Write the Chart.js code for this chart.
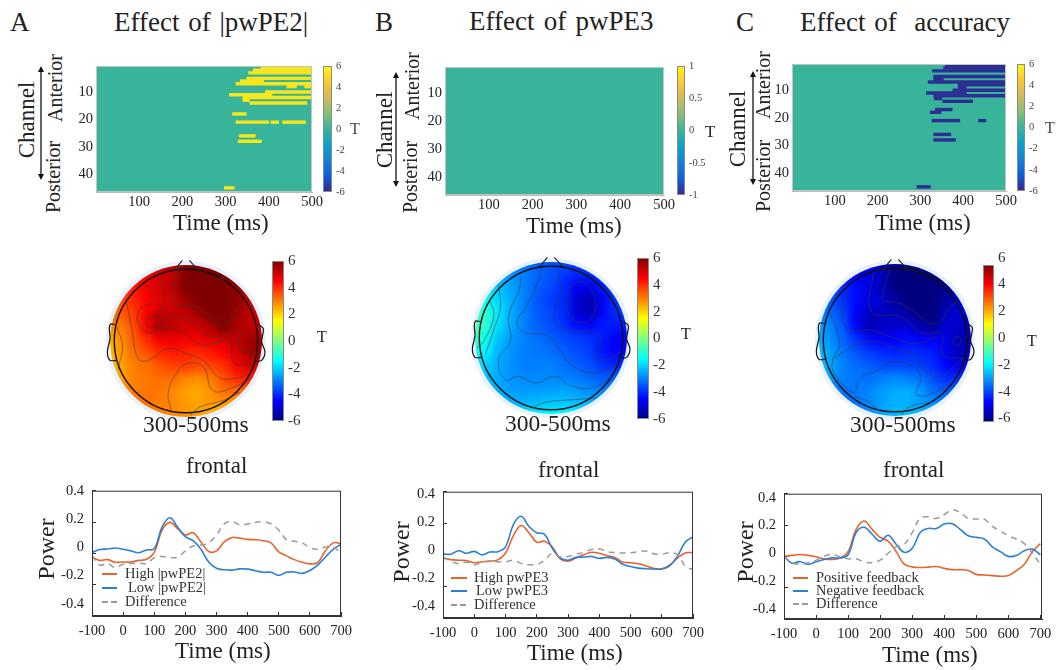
<!DOCTYPE html>
<html>
<head>
<meta charset="utf-8">
<title>Effect panels</title>
<script src="https://cdn.jsdelivr.net/npm/chart.js@4/dist/chart.umd.min.js"></script>
<style>
  html, body { margin: 0; padding: 0; background: #fff; }
  #page { position: relative; width: 1056px; height: 670px; overflow: hidden; font-family: "Liberation Serif", serif; color: #222; }
  #page canvas { position: absolute; }
  .txt { position: absolute; white-space: pre; line-height: 1; }
  .rot { position: absolute; white-space: pre; line-height: 1; transform: translate(-50%, -50%) rotate(-90deg); }
  .halo { position: absolute; border-radius: 50%; background: #e7f1fc; }
  .swatch { position: absolute; }
</style>
</head>
<body>
<div id="page"></div>
<script>
// Data
const times = [-100, -75, -50, -25, 0, 25, 50, 75, 100, 125, 150, 175, 200, 225, 250, 275, 300, 325, 350, 375, 400, 425, 450, 475, 500, 525, 550, 575, 600, 625, 650, 675, 700];
const xTicks = [-100, 0, 100, 200, 300, 400, 500, 600, 700];
const powerTicks = [0.4, 0.2, 0, -0.2, -0.4];
const heatXTicks = [100, 200, 300, 400, 500];
const heatYTicks = [10, 20, 30, 40];
const channelCount = 46;
const tickSix = [6, 4, 2, 0, -2, -4, -6];
const tickOne = [1, 0.5, 0, -0.5, -1];

const highPE2 = [-.024, -.045, -.04, -.057, -.055, -.055, -.045, -.038, .006, .148, .198, .158, .117, .132, .073, .012, .016, .073, .101, .097, .089, .087, .081, .067, .01, -.016, -.04, -.057, -.067, -.059, .016, .067, .061];
const lowPE2 = [.006, .024, .028, .034, .026, .016, .004, .022, .03, .168, .227, .168, .107, .081, .026, -.055, -.095, -.105, -.107, -.099, -.101, -.111, -.121, -.121, -.14, -.121, -.119, -.128, -.109, -.075, -.024, .026, .057];
const diffPE2 = [-.014, -.075, -.065, -.091, -.069, -.065, -.061, -.065, -.028, -.02, -.028, -.024, .016, .047, .053, .067, .117, .188, .204, .182, .188, .198, .202, .188, .148, .087, .077, .067, .036, .026, .04, .04, -.004];

const highPE3 = [-.02, -.03, -.034, -.036, -.05, -.044, -.04, -.032, .01, .12, .186, .14, .08, .086, .05, -.026, -.04, -.02, 0, .016, .01, -.006, -.016, -.046, -.05, -.056, -.07, -.086, -.088, -.066, -.02, .012, .014];
const lowPE3 = [.006, .004, .026, .01, .022, 0, .018, .02, .05, .19, .244, .18, .14, .13, .04, -.02, -.034, -.016, -.014, -.01, -.022, -.016, -.026, -.06, -.074, -.084, -.088, -.09, -.09, -.07, -.01, .08, .114];
const diffPE3 = [-.014, -.04, -.056, -.046, -.064, -.046, -.04, -.044, -.044, -.034, -.054, -.062, -.062, -.034, .01, -.014, -.01, .004, .016, .034, .038, .02, .014, .012, .014, .02, .024, .006, .004, .014, 0, -.07, -.094];

const positiveFb = [0, .006, .012, .006, -.002, -.016, -.02, -.01, .03, .172, .226, .172, .121, .097, .03, -.05, -.067, -.071, -.069, -.065, -.077, -.085, -.085, -.091, -.115, -.119, -.123, -.127, -.123, -.091, -.05, .03, .081];
const negativeFb = [0, -.044, -.034, -.051, -.034, -.02, -.01, -.01, .01, .152, .186, .141, .097, .135, .077, .026, .051, .152, .178, .178, .206, .208, .172, .131, .121, .111, .061, .03, 0, .006, .036, .046, .01];
const diffFb = [0, -.04, -.051, -.04, -.024, 0, .014, -.004, -.016, -.016, -.036, -.04, -.024, .02, .061, .077, .152, .242, .253, .242, .267, .297, .279, .242, .238, .238, .192, .162, .131, .111, .081, .02, -.051];

// significant stretches: [channel, start ms, end ms]
const clusterA = [[1, 382, 500], [2, 364, 500], [3, 353, 500], [5, 349, 500], [6, 334, 388], [7, 324, 500], [8, 442, 464], [8, 483, 500], [10, 392, 500], [11, 309, 407], [12, 340, 500], [13, 340, 355], [14, 356, 488], [18, 316, 348], [21, 324, 400], [21, 405, 423], [21, 432, 485], [26, 332, 369], [28, 329, 383], [45, 297, 320]];
const clusterB = [];
const clusterC = [[1, 358, 500], [2, 354, 500], [3, 328, 500], [5, 331, 500], [6, 331, 354], [7, 318, 500], [8, 388, 500], [9, 388, 407], [10, 376, 500], [11, 314, 407], [12, 331, 500], [13, 332, 350], [14, 352, 422], [17, 335, 374], [18, 323, 348], [21, 327, 392], [21, 436, 453], [26, 331, 371], [28, 331, 382], [45, 292, 323]];

// T values on a 13 x 13 grid over the scalp, top row first
const scalpA = [
  [4.5, 4.5, 4.5, 4.5, 5, 5.3, 5.8, 6, 6, 5.8, 5.5, 5, 5],
  [4, 4, 4.2, 4.6, 5, 5.2, 6, 6, 6, 6, 5.8, 5, 5],
  [3.8, 3.8, 4.2, 4.6, 5, 5.3, 6, 6, 6, 6, 5.8, 5.2, 5],
  [3.5, 3.6, 4, 4.5, 4.8, 5, 5.6, 6, 6, 6, 5.8, 5.2, 5],
  [3.2, 3.4, 3.8, 4.6, 5.3, 5.2, 5.2, 5.6, 6, 6, 5.6, 5.2, 5],
  [2.8, 3, 3.6, 4.6, 5.5, 5.2, 5, 5, 5.5, 6, 5.4, 5.3, 5.2],
  [2.4, 2.8, 3.4, 4, 4.6, 4.7, 4.6, 4.6, 4.8, 5, 5.2, 5.7, 5.6],
  [2.2, 2.7, 3.2, 3.5, 4, 4.2, 4.1, 4, 4.2, 4.5, 5, 5.6, 5.6],
  [2.2, 2.6, 3, 3.2, 3.5, 3.7, 3.8, 3.6, 3.7, 3.9, 4.6, 5, 5],
  [2.4, 2.6, 3, 3.1, 3.2, 3.2, 2.9, 2.8, 3, 3.6, 4, 4.2, 4.2],
  [2.8, 3, 3, 3.1, 3.1, 2.9, 2.6, 2.5, 2.8, 3.2, 3.2, 3.2, 3],
  [3.4, 3.4, 3.2, 3.2, 3, 2.9, 2.7, 2.6, 2.7, 2.6, 2.4, 2, 2],
  [3.6, 3.6, 3.4, 3.2, 3, 2.9, 2.8, 2.6, 2.2, 2, 1.8, 1.8, 1.8]
];
const scalpB = [
  [-3, -3, -3, -3, -3.2, -3.4, -3.6, -3.6, -3.8, -4, -3.8, -3.5, -3.5],
  [-2.4, -2.4, -2.6, -2.8, -3, -3.3, -3.5, -3.8, -4, -4, -3.9, -3.6, -3.5],
  [-1.6, -1.8, -2.2, -2.6, -3, -3.4, -3.6, -4, -4.6, -4.7, -4.2, -3.8, -3.5],
  [-1, -1.4, -2, -2.5, -3, -3.5, -3.8, -4, -5, -5.4, -4.6, -3.9, -3.6],
  [-.6, -1, -1.8, -2.5, -3, -3.4, -3.7, -4, -5, -5.4, -4.6, -4, -3.8],
  [-.4, -1, -1.9, -2.5, -3, -3.4, -3.6, -3.9, -4.4, -4.6, -4.2, -4.2, -4.2],
  [-.6, -1.3, -2.2, -2.7, -3, -3.2, -3.4, -3.6, -3.8, -3.9, -4.2, -4.6, -4.5],
  [-1.2, -1.6, -2.4, -2.8, -3, -3.1, -3.2, -3.4, -3.6, -3.8, -4.3, -4.6, -4.4],
  [-1.8, -2, -2.5, -2.8, -3, -3, -3, -3.2, -3.4, -3.6, -4, -4.2, -4],
  [-2, -2.2, -2.5, -2.8, -2.9, -2.9, -2.9, -3, -3.1, -3.3, -3.5, -3.5, -3.4],
  [-2.2, -2.3, -2.5, -2.7, -2.7, -2.7, -2.7, -2.6, -2.7, -2.9, -3, -3, -3],
  [-2.4, -2.4, -2.4, -2.4, -2.4, -2.3, -2.2, -2.2, -2.3, -2.4, -2.5, -2.6, -2.6],
  [-2.4, -2.3, -2.2, -2, -1.8, -1.6, -1.5, -1.5, -1.6, -1.8, -2, -2.2, -2.4]
];
const scalpC = [
  [-4.5, -4.5, -4.6, -4.8, -5, -5.3, -5.7, -6, -6, -5.8, -5.5, -5, -5],
  [-4, -4, -4.2, -4.6, -4.8, -5.2, -6, -6, -6, -6, -5.8, -5.2, -5],
  [-3.6, -3.7, -4, -4.4, -4.8, -5.3, -6, -6, -6, -6, -5.8, -5.2, -5],
  [-3.4, -3.5, -3.9, -4.4, -4.8, -5, -5.6, -6, -6, -6, -5.6, -5, -5],
  [-3, -3.2, -3.7, -4.6, -5.2, -5.3, -5.3, -5.6, -6, -6, -5.2, -5, -5],
  [-2.6, -2.9, -3.5, -4.5, -5.4, -5.2, -5, -5, -5.4, -5.8, -5, -5.2, -5.2],
  [-2.4, -2.8, -3.3, -3.9, -4.4, -4.6, -4.5, -4.4, -4.6, -4.6, -4.8, -5.4, -5.5],
  [-2.2, -2.6, -3.1, -3.5, -3.8, -4, -4.1, -4, -4, -4.2, -4.8, -5.3, -5.3],
  [-2.2, -2.5, -3, -3.2, -3.4, -3.6, -3.7, -3.7, -3.8, -4, -4.5, -4.8, -4.7],
  [-2.4, -2.6, -3, -3.1, -3.2, -3, -2.9, -3, -3.2, -3.6, -4, -4, -4],
  [-2.8, -3, -3.1, -3.1, -2.9, -2.7, -2.5, -2.4, -2.7, -3.2, -3.4, -3.4, -3.4],
  [-3.2, -3.4, -3.3, -3.1, -2.9, -2.6, -2.4, -2.4, -2.6, -2.8, -3, -3, -3],
  [-3.4, -3.4, -3.3, -3.1, -2.8, -2.6, -2.3, -2.2, -2.2, -2.3, -2.4, -2.4, -2.4]
];

// contour lines, traced per scalp
const contoursA = [
  [[262, 70], [255, 110], [248, 170], [290, 178], [340, 195], [385, 240], [420, 225], [440, 190], [468, 165]],
  [[215, 105], [218, 170], [205, 210], [172, 218], [170, 240], [190, 246], [235, 215], [290, 222], [340, 262], [380, 275], [420, 260], [450, 255], [445, 295], [460, 315], [498, 322]],
  [[165, 110], [192, 165], [150, 190], [145, 235], [180, 262], [225, 245], [270, 258], [335, 298], [385, 290], [420, 285], [425, 340], [450, 360], [495, 350]],
  [[108, 160], [125, 250], [145, 340], [175, 345], [235, 310], [290, 325], [345, 350], [385, 395], [430, 400], [480, 385]],
  [[80, 245], [97, 300], [85, 370]],
  [[243, 495], [235, 440], [262, 380], [290, 355], [340, 365], [368, 435], [420, 430], [490, 395]],
  [[300, 510], [330, 485], [400, 465], [450, 440]]
];
const contoursB = [
  [[318, 165], [340, 118], [375, 115], [400, 150], [405, 195], [380, 232], [340, 225], [320, 195], [318, 165]],
  [[295, 85], [300, 150], [280, 220], [320, 255], [385, 262], [415, 265], [420, 300], [405, 340], [440, 345], [485, 320]],
  [[245, 70], [225, 130], [195, 190], [170, 230], [190, 262], [260, 272], [300, 320], [340, 365], [400, 385], [470, 360]],
  [[180, 95], [178, 130], [145, 215], [150, 290], [115, 345], [135, 405], [175, 395], [225, 415], [285, 395], [335, 425], [410, 425], [465, 375]],
  [[115, 120], [120, 190], [100, 255], [75, 330]],
  [[90, 170], [100, 215], [70, 290], [50, 310]],
  [[215, 490], [260, 472], [340, 465], [410, 460]]
];
const contoursC = [
  [[268, 75], [250, 140], [250, 165], [300, 175], [350, 205], [390, 235], [425, 225], [445, 190], [470, 170]],
  [[220, 80], [215, 200], [300, 215], [370, 265], [425, 265], [430, 330], [495, 340]],
  [[460, 285], [470, 275], [485, 285], [475, 300], [460, 295], [460, 285]],
  [[145, 130], [125, 205], [150, 255], [210, 255], [270, 275], [345, 295], [410, 275]],
  [[85, 190], [118, 295], [100, 340], [100, 380], [145, 435], [165, 440], [180, 400], [235, 375], [270, 352], [330, 360], [362, 395], [350, 450], [420, 435], [490, 385]],
  [[100, 340], [170, 300], [230, 290], [290, 310], [340, 330], [370, 370], [415, 395], [490, 340]],
  [[165, 455], [205, 470], [235, 495]],
  [[305, 510], [330, 485], [400, 470]]
];
// head outline relative to the head centre
const noseLeft = [[-38, -209], [-11, -242]];
const noseRight = [[10, -242], [40, -209]];
const earLeft = [[-213, -49], [-226, -51], [-230, -37], [-228, -7], [-236, 33], [-228, 58], [-210, 58]];
const earRight = [[217, -49], [232, -37], [227, 3], [237, 33], [227, 58], [209, 61]];

const parulaStops = ["#352a87", "#0f5cdd", "#1481d6", "#06a4ca", "#38b49b", "#87bf77", "#d1bb59", "#fec832", "#f9fb0e"];
const jetStops = ["#00007f", "#0000ff", "#007fff", "#00ffff", "#7fff7f", "#ffff00", "#ff7f00", "#ff0000", "#7f0000"];

Chart.defaults.animation = false;
Chart.defaults.responsive = false;
Chart.defaults.layout.autoPadding = false;
Chart.defaults.font.family = '"Liberation Serif", serif';
Chart.defaults.color = "#222";
Chart.defaults.plugins.legend.display = false;
Chart.defaults.plugins.tooltip.enabled = false;

const page = document.getElementById("page");

// Texte: left edge + baseline
function text(str, x, base, size, color, wordGap) {
  const d = document.createElement("div");
  d.className = "txt";
  d.textContent = str;
  d.style.left = x + "px";
  d.style.top = base - 0.8375 * size + "px";
  d.style.fontSize = size + "px";
  if (color) d.style.color = color;
  if (wordGap) d.style.wordSpacing = wordGap + "px";
  page.appendChild(d);
}

function vtext(str, cx, cy, size) {
  const d = document.createElement("div");
  d.className = "rot";
  d.textContent = str;
  d.style.left = cx + "px";
  d.style.top = cy + "px";
  d.style.fontSize = size + "px";
  page.appendChild(d);
}

function arrow(x, y1, y2) {
  const svg = document.createElementNS("http://www.w3.org/2000/svg", "svg");
  svg.setAttribute("width", 12);
  svg.setAttribute("height", y2 - y1);
  svg.style.position = "absolute";
  svg.style.left = x - 6 + "px";
  svg.style.top = y1 + "px";
  const h = y2 - y1;
  svg.innerHTML =
    `<line x1="6" y1="3" x2="6" y2="${h - 3}" stroke="#111" stroke-width="1.3"/>` +
    `<polygon points="6,0 3,6 9,6" fill="#111"/>` +
    `<polygon points="6,${h} 3,${h - 6} 9,${h - 6}" fill="#111"/>`;
  page.appendChild(svg);
}

// canvas sized so that the plot area lands on box, with m px around it for the axes
function mount(box, m) {
  const c = document.createElement("canvas");
  c.width = box.r - box.l + m.l + m.r;
  c.height = box.b - box.t + m.t + m.b;
  c.style.left = box.l - m.l + "px";
  c.style.top = box.t - m.t + "px";
  page.appendChild(c);
  return c;
}

function frame(color) {
  return {
    id: "frame",
    afterDraw(chart) {
      const a = chart.chartArea, ctx = chart.ctx;
      ctx.save();
      ctx.strokeStyle = color;
      ctx.lineWidth = 1;
      ctx.strokeRect(a.left + 0.5, a.top + 0.5, a.right - a.left - 1, a.bottom - a.top - 1);
      ctx.restore();
    },
  };
}

function fixedTicks(list) {
  return (scale) => {
    scale.ticks = list.map((v) => ({ value: v }));
  };
}

function lerpColor(stops, t) {
  const p = Math.max(0, Math.min(1, t)) * (stops.length - 1);
  const i = Math.min(Math.floor(p), stops.length - 2);
  const f = p - i;
  const a = parseInt(stops[i].slice(1), 16), b = parseInt(stops[i + 1].slice(1), 16);
  const ch = (s) => Math.round(((a >> s) & 255) * (1 - f) + ((b >> s) & 255) * f);
  return `rgb(${ch(16)},${ch(8)},${ch(0)})`;
}

// Heatmap: one floating horizontal bar per stretch
function heatmap(box, clusters, color, ms) {
  const channels = Array.from({ length: channelCount }, (_, i) => String(i + 1));
  const layers = [];
  clusters.forEach(([ch, from, to]) => {
    let layer = layers.find((l) => !l[ch - 1]);
    if (!layer) {
      layer = new Array(channelCount).fill(null);
      layers.push(layer);
    }
    layer[ch - 1] = [from, to];
  });
  const bar = { barPercentage: 1, categoryPercentage: 1, grouped: false, borderWidth: 0 };
  new Chart(mount(box, ms), {
    type: "bar",
    data: {
      labels: channels,
      datasets: [
        ...layers.map((l) => ({ data: l, backgroundColor: color, order: 1, ...bar })),
        // slightly oversized so no seams show between the rows
        { data: channels.map(() => [0, 500]), backgroundColor: "#38b49b", order: 2, ...bar, barPercentage: 1.3 },
      ],
    },
    options: {
      indexAxis: "y",
      layout: { padding: { top: ms.t, right: ms.r, left: 0, bottom: 0 } },
      scales: {
        x: {
          type: "linear", min: 0, max: 500,
          grid: { drawOnChartArea: false, drawTicks: false },
          border: { color: "#bbb" },
          afterBuildTicks: fixedTicks(heatXTicks),
          ticks: { font: { size: 14.5 }, padding: ms.pad, color: "#222", maxRotation: 0 },
          afterFit: (s) => { s.height = ms.b; },
        },
        y: {
          grid: { drawOnChartArea: false, drawTicks: false },
          border: { color: "#bbb" },
          ticks: {
            autoSkip: false, font: { size: 14.5 }, padding: 3, color: "#222",
            callback: (v, i) => (heatYTicks.includes(i + 1) ? String(i + 1) : ""),
          },
          afterFit: (s) => { s.width = ms.l; },
        },
      },
    },
    plugins: [frame("#c4c4c4")],
  });
}

// Colour bar: one floating bar with a gradient fill; labelRange lets the numbers sit off the bar ends
function colorbar(box, stops, ticks, range, labelSize, labelColor, labelRange) {
  const m = { l: 0, r: 34, t: 12, b: 12 };
  const lr = labelRange || [range[0], range[1]];
  new Chart(mount(box, m), {
    type: "bar",
    data: {
      labels: [""],
      datasets: [{
        data: [[range[0], range[1]]],
        barPercentage: 1,
        categoryPercentage: 1,
        borderWidth: 0,
        backgroundColor: (ctx) => {
          const a = ctx.chart.chartArea;
          if (!a) return stops[0];
          const g = ctx.chart.ctx.createLinearGradient(0, a.bottom, 0, a.top);
          stops.forEach((s, i) => g.addColorStop(i / (stops.length - 1), s));
          return g;
        },
      }],
    },
    options: {
      layout: { padding: { top: m.t, bottom: m.b, left: 0, right: 0 } },
      scales: {
        x: { display: false },
        y: { display: false, min: range[0], max: range[1] },
        tick: {
          position: "right", min: lr[0], max: lr[1],
          grid: { display: false, drawTicks: false },
          border: { display: false },
          afterBuildTicks: fixedTicks(ticks),
          ticks: { font: { size: labelSize }, color: labelColor, padding: 4, callback: (v) => String(v) },
          afterFit: (s) => { s.width = m.r; },
        },
      },
    },
    plugins: [frame("#8a8a8a")],
  });
}

// Scalp map: grid cells blurred together, then contours + head outline on a second chart
function scalp(cx, cy, grid, contours, ox, oy) {
  const discR = 76, haloR = 80, half = 84;
  const halo = document.createElement("div");
  halo.className = "halo";
  halo.style.left = cx - haloR + "px";
  halo.style.top = cy - haloR + "px";
  halo.style.width = halo.style.height = haloR * 2 + "px";
  page.appendChild(halo);

  const none = { l: 0, r: 0, t: 0, b: 0 };
  const fieldBox = { l: cx - half, r: cx + half, t: cy - half, b: cy + half };
  const fieldCanvas = mount(fieldBox, none);
  fieldCanvas.style.filter = "blur(4px)";
  fieldCanvas.style.clipPath = `circle(${discR}px at center)`;
  const cells = [];
  grid.forEach((row, r) => row.forEach((v, c) => cells.push({ x: c, y: r, v })));
  new Chart(fieldCanvas, {
    type: "scatter",
    data: {
      datasets: [{
        data: cells,
        pointStyle: "rect",
        pointRadius: ((half * 2) / 13 / 2 + 0.6) / Math.SQRT1_2,
        pointBorderWidth: 0,
        pointBackgroundColor: (ctx) => lerpColor(jetStops, (ctx.raw.v + 6) / 12),
        clip: false,
      }],
    },
    options: {
      scales: {
        x: { display: false, min: -0.5, max: 12.5 },
        y: { display: false, min: -0.5, max: 12.5, reverse: true },
      },
    },
  });

  const span = 95, unit = 3; // outline units are 1/3 px
  const lineBox = { l: cx - span, r: cx + span, t: cy - span, b: cy + span };
  const toXY = (pts, dx, dy) => pts.map(([x, y]) => ({ x: x - dx, y: y - dy }));
  const line = (pts, color, w, tension) => ({
    data: pts, showLine: true, pointRadius: 0, borderColor: color, borderWidth: w, tension, clip: false,
  });
  new Chart(mount(lineBox, none), {
    type: "scatter",
    data: {
      datasets: [
        ...contours.map((c) => line(toXY(c, ox, oy), "rgba(55,60,60,0.62)", 0.9, 0.45)),
        line(toXY(noseLeft, 0, 0), "#222", 1.1, 0),
        line(toXY(noseRight, 0, 0), "#222", 1.1, 0),
        line(toXY(earLeft, 0, 0), "#111", 1.2, 0.3),
        line(toXY(earRight, 0, 0), "#111", 1.2, 0.3),
        {
          data: [{ x: 0, y: 0 }],
          pointRadius: 71.7,
          pointBackgroundColor: "rgba(0,0,0,0)",
          pointBorderColor: "#111",
          pointBorderWidth: 1.4,
          clip: false,
        },
      ],
    },
    options: {
      scales: {
        x: { display: false, min: -span * unit, max: span * unit },
        y: { display: false, min: -span * unit, max: span * unit, reverse: true },
      },
    },
  });
}

// Power time course
function powerChart(box, series, xMax, labelRange) {
  const m = { l: 40, r: 22, t: 10, b: 26 };
  const pts = (vals) => times.map((t, i) => ({ x: t, y: vals[i] }));
  const mark = { drawOnChartArea: false, drawTicks: true, tickLength: -4, tickColor: "#333" };
  new Chart(mount(box, m), {
    type: "line",
    data: {
      datasets: [
        { data: pts(series[2]), borderColor: "#9a9a9a", borderWidth: 1.5, borderDash: [6, 5], pointRadius: 0, tension: 0.4 },
        { data: pts(series[1]), borderColor: "#2b7fd4", borderWidth: 1.6, pointRadius: 0, tension: 0.4 },
        { data: pts(series[0]), borderColor: "#e9632c", borderWidth: 1.6, pointRadius: 0, tension: 0.4 },
      ],
    },
    options: {
      layout: { padding: { top: m.t, right: m.r, left: 0, bottom: 0 } },
      scales: {
        x: {
          type: "linear", min: -100, max: xMax,
          grid: mark,
          border: { color: "#333" },
          afterBuildTicks: fixedTicks(xTicks),
          ticks: { font: { size: 14.5 }, padding: 10, color: "#222", maxRotation: 0 },
          afterFit: (s) => { s.height = m.b; },
        },
        y: {
          min: -0.4, max: 0.4, weight: 0,
          grid: mark,
          border: { color: "#333" },
          afterBuildTicks: fixedTicks(powerTicks),
          ticks: { display: false },
          afterFit: (s) => { s.width = 0; },
        },
        // tick numbers sit higher than the tick marks in the reference
        labels: {
          position: "left", min: labelRange[0], max: labelRange[1], weight: 1,
          grid: { display: false, drawTicks: false },
          border: { display: false },
          afterBuildTicks: fixedTicks(powerTicks),
          ticks: { font: { size: 14.5 }, padding: 8, color: "#222", callback: (v) => String(v) },
          afterFit: (s) => { s.width = m.l; },
        },
      },
    },
    plugins: [frame("#333")],
  });
}

function legend(rows, swL, swR) {
  rows.forEach(([label, x, y, color, dashed]) => {
    const s = document.createElement("div");
    s.className = "swatch";
    s.style.left = swL + "px";
    s.style.width = swR - swL + "px";
    s.style.top = y - 1 + "px";
    s.style.height = "2px";
    s.style.background = dashed ? `repeating-linear-gradient(90deg, ${color} 0 6px, transparent 6px 9px)` : color;
    page.appendChild(s);
    text(label, x, y + 4.5, 14.5, "#333");
  });
}

// Top row
text("A", 10, 32, 27);
text("Effect of |pwPE2|", 114, 32, 27, null, 2);
text("B", 375, 32, 27);
text("Effect of pwPE3", 469, 31, 27, null, 2.5);
text("C", 736, 32, 27);
text("Effect of  accuracy", 800, 32, 27, null, 2);

const heatColor = "#f8e61c", heatDark = "#2d2e92";
heatmap({ l: 96, r: 312, t: 66, b: 192 }, clusterA, heatColor, { l: 30, r: 14, t: 12, b: 20, pad: 1 });
heatmap({ l: 445, r: 664, t: 67, b: 195 }, clusterB, heatColor, { l: 30, r: 14, t: 12, b: 20, pad: 1 });
heatmap({ l: 792, r: 1006, t: 64, b: 191 }, clusterC, heatDark, { l: 30, r: 14, t: 12, b: 20, pad: 1 });

colorbar({ l: 323, r: 332, t: 66, b: 192 }, parulaStops, tickSix, [-6, 6], 10.5, "#444");
colorbar({ l: 677, r: 685, t: 66, b: 195 }, parulaStops, tickOne, [-1, 1], 10.5, "#444");
colorbar({ l: 1017, r: 1025, t: 64, b: 191 }, parulaStops, tickSix, [-6, 6], 10.5, "#444");
text("T", 350, 134, 16, "#444");
text("T", 705, 137, 17);
text("T", 1045, 133, 16, "#444");

text("Time (ms)", 173, 230, 23);
text("Time (ms)", 526, 233, 23);
text("Time (ms)", 875, 230, 23);

vtext("Channel", 26, 120, 23);
vtext("Anterior", 55, 88, 20);
vtext("Posterior", 53, 177, 20);
arrow(41, 66, 180);
vtext("Channel", 384, 130, 23);
vtext("Anterior", 412, 86, 20);
vtext("Posterior", 410, 177, 20);
arrow(396, 72, 187);
vtext("Channel", 737, 129, 23);
vtext("Anterior", 763, 85, 20);
vtext("Posterior", 763, 176, 20);
arrow(753, 71, 185);

// Middle row
scalp(186, 341, scalpA, contoursA, 288, 287);
scalp(551, 338, scalpB, contoursB, 272, 280);
scalp(895, 340, scalpC, contoursC, 285, 285);
colorbar({ l: 272, r: 284, t: 260, b: 422 }, jetStops, tickSix, [-6, 6], 15, "#333");
colorbar({ l: 637, r: 649, t: 257, b: 420 }, jetStops, tickSix, [-6, 6], 15, "#333");
colorbar({ l: 983, r: 994, t: 264, b: 423 }, jetStops, tickSix, [-6, 6], 15, "#333", [-6.27, 5.46]);
text("T", 317, 342, 16);
text("T", 681, 339, 16);
text("T", 1027, 346, 16);
text("300-500ms", 143, 433, 23.5);
text("300-500ms", 505, 432, 23.5);
text("300-500ms", 850, 433, 23.5);

// Bottom row
powerChart({ l: 92, r: 341, t: 484, b: 616 }, [highPE2, lowPE2, diffPE2], 700, [-0.487, 0.4045]);
powerChart({ l: 443, r: 693, t: 485, b: 618 }, [highPE3, lowPE3, diffPE3], 700, [-0.486, 0.418]);
powerChart({ l: 784, r: 1042, t: 487, b: 619 }, [positiveFb, negativeFb, diffFb], 705, [-0.47, 0.4295]);

text("frontal", 186, 473, 23);
text("frontal", 538, 477, 23);
text("frontal", 883, 477, 23);
vtext("Power", 46, 549, 24);
vtext("Power", 401, 552, 24);
vtext("Power", 745, 552, 24);
text("Time (ms)", 175, 658, 23);
text("Time (ms)", 527, 660, 23);
text("Time (ms)", 882, 662, 23);

legend([["High |pwPE2|", 125, 574, "#e9632c"], ["Low |pwPE2|", 128, 588, "#2b7fd4"], ["Difference", 125, 602, "#9a9a9a", true]], 102, 117);
legend([["High pwPE3", 474, 578, "#e9632c"], ["Low pwPE3", 476, 591, "#2b7fd4"], ["Difference", 474, 605, "#9a9a9a", true]], 451, 467);
legend([["Positive feedback", 816, 578, "#e9632c"], ["Negative feedback", 816, 591, "#2b7fd4"], ["Difference", 816, 604, "#9a9a9a", true]], 793, 808);
</script>
</body>
</html>
